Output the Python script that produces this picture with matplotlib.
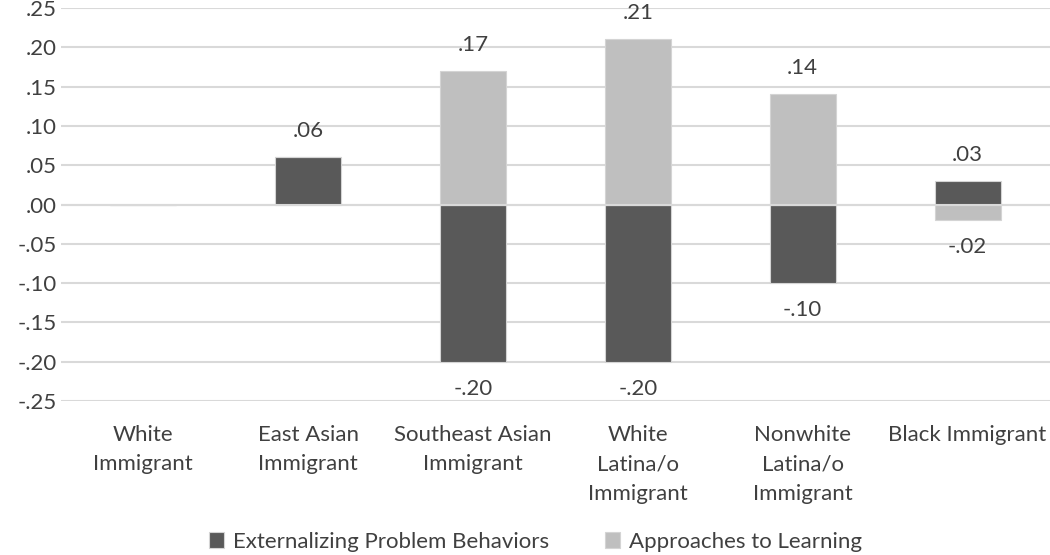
import numpy as np
import matplotlib.pyplot as plt

# dane
grupy = ['White\nImmigrant', 'East Asian\nImmigrant', 'Southeast Asian\nImmigrant',
         'White\nLatina/o\nImmigrant', 'Nonwhite\nLatina/o\nImmigrant', 'Black Immigrant']
externalizing = [0.00, 0.06, -0.20, -0.20, -0.10, 0.03]
approaches = [0.00, 0.00, 0.17, 0.21, 0.14, -0.02]
yticks = [-0.25, -0.20, -0.15, -0.10, -0.05, 0.00, 0.05, 0.10, 0.15, 0.20, 0.25]

plt.rcParams['font.family'] = ['Lato', 'DejaVu Sans']
txt_color = '#404040'
fs = 16


def fmt(v):
    s = f'{v:.2f}'
    return s.replace('0.', '.', 1)


fig = plt.figure(figsize=(10.5, 5.55), dpi=100)
ax = fig.add_axes([0.058, 0.2775, 0.942, 0.708])

x = np.arange(len(grupy))
width = 0.4
pos_base = np.zeros(len(grupy))
neg_base = np.zeros(len(grupy))

series = [(externalizing, '#595959', 'Externalizing Problem Behaviors'),
          (approaches, '#bfbfbf', 'Approaches to Learning')]

for vals, col, lab in series:
    vals = np.array(vals)
    bottom = np.where(vals >= 0, pos_base, neg_base)
    ax.bar(x, vals, width, bottom=bottom, color=col, edgecolor='#d4d4d4',
           linewidth=0.8, label=lab, zorder=2)
    for i, v in enumerate(vals):
        if v == 0:
            continue
        end = bottom[i] + v
        off = 26 if v > 0 else -27
        ax.annotate(fmt(v), (x[i], end), xytext=(0, off), textcoords='offset pixels',
                    ha='center', va='center', fontsize=fs, color=txt_color)
    pos_base = pos_base + np.where(vals > 0, vals, 0)
    neg_base = neg_base + np.where(vals < 0, vals, 0)

ax.axhline(0, color='#d9d9d9', linewidth=1.5, zorder=3)

ax.set_xlim(-0.5, len(grupy) - 0.5)
ax.set_ylim(-0.25, 0.25)
ax.set_yticks(yticks)
ax.set_yticklabels([fmt(t) if t != 0 else '.00' for t in yticks])
ax.yaxis.grid(True, color='#d9d9d9', linewidth=1.5, zorder=0)
ax.set_axisbelow(True)
ax.set_xticks(x)
ax.set_xticklabels(grupy, linespacing=1.6)
ax.tick_params(axis='both', length=0, labelsize=fs, colors=txt_color)
ax.tick_params(axis='x', pad=17)
ax.tick_params(axis='y', pad=3)
for s in ax.spines.values():
    s.set_visible(False)

fig.legend(loc='lower center', bbox_to_anchor=(0.51, -0.03), ncol=2, frameon=False,
           fontsize=fs, labelcolor=txt_color, handlelength=0.7, handleheight=0.7,
           handletextpad=0.4, columnspacing=2.5)

fig.savefig('out.png', dpi=100)
